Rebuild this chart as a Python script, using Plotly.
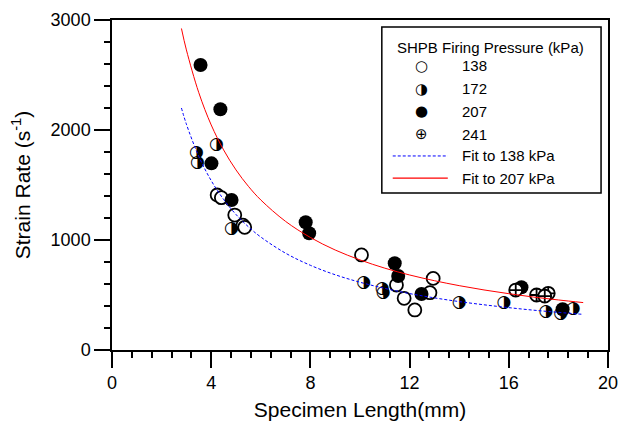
import plotly.graph_objs as go

# specimen length (mm) and strain rate (1/s) for each SHPB firing pressure
len_138 = [4.24, 4.41, 4.95, 5.28, 5.35, 10.06, 11.47, 11.78, 12.21, 12.82, 12.95]
rate_138 = [1409, 1385, 1227, 1135, 1115, 864, 591, 470, 364, 521, 651]

len_172 = [3.40, 3.44, 4.21, 4.82, 10.15, 10.89, 10.93, 14.0, 15.80, 17.50, 18.09, 18.60]
rate_172 = [1797, 1706, 1870, 1106, 612, 561, 521, 433, 433, 348, 333, 379]

len_207 = [3.57, 4.37, 4.01, 4.82, 7.81, 7.95, 11.40, 11.54, 12.48, 16.51, 18.17]
rate_207 = [2591, 2188, 1697, 1364, 1161, 1061, 788, 673, 509, 570, 370]

len_241 = [16.28, 17.12, 17.59, 17.45]
rate_241 = [545, 500, 515, 490]

# fitted curves
fit_len = [2.8, 3, 3.5, 4, 4.5, 5, 5.5, 6, 7, 8, 9, 10, 11, 12, 13, 14, 15, 16, 17, 18, 19]
fit_138 = [2200, 2053, 1760, 1540, 1369, 1232, 1120, 1027, 880, 770, 684, 616, 560, 513, 474, 440, 411, 385, 362, 342, 324]
fit_207 = [2923, 2728, 2339, 2046, 1819, 1637, 1488, 1364, 1169, 1023, 909, 819, 744, 682, 630, 585, 546, 512, 481, 455, 431]

legend_title = 'SHPB Firing Pressure (kPa)'
legend_labels = ['138', '172', '207', '241', 'Fit to 138 kPa', 'Fit to 207 kPa']
legend_glyphs = ['\u25CB', '\u25D1', '\u25CF', '\u2295']

font = 'Liberation Sans, Arial, sans-serif'
glyph_font = 'DejaVu Sans'

fig = go.Figure()
fig.add_trace(go.Scatter(x=len_138, y=rate_138, mode='markers',
                         marker=dict(symbol='circle', size=13, color='white',
                                     line=dict(color='black', width=1.8))))
# no half-filled marker symbol in plotly, use the glyph instead
fig.add_trace(go.Scatter(x=len_172, y=rate_172, mode='text', text=[legend_glyphs[1]] * len(len_172),
                         textfont=dict(family=glyph_font, size=17, color='black')))
fig.add_trace(go.Scatter(x=len_207, y=rate_207, mode='markers',
                         marker=dict(symbol='circle', size=14, color='black')))
fig.add_trace(go.Scatter(x=len_241, y=rate_241, mode='markers',
                         marker=dict(symbol='circle-cross', size=13, color='white',
                                     line=dict(color='black', width=1.8))))
fig.add_trace(go.Scatter(x=fit_len, y=fit_138, mode='lines',
                         line=dict(color='blue', width=1, dash='3px,2px', shape='spline')))
fig.add_trace(go.Scatter(x=fit_len, y=fit_207, mode='lines',
                         line=dict(color='red', width=1, shape='spline')))

# legend drawn by hand
row_y = [0.861, 0.791, 0.724, 0.654, 0.588, 0.521]
fig.add_shape(type='rect', xref='paper', yref='paper', x0=0.544, x1=0.986, y0=0.476, y1=0.979,
              line=dict(color='black', width=1.5), fillcolor='white', layer='above')
fig.add_annotation(xref='paper', yref='paper', x=0.763, y=0.918, xanchor='center', yanchor='middle',
                   text=legend_title, showarrow=False, font=dict(family=font, size=15, color='black'))
for i, lab in enumerate(legend_labels):
    fig.add_annotation(xref='paper', yref='paper', x=0.701, y=row_y[i], xanchor='left', yanchor='middle',
                       text=lab, showarrow=False, font=dict(family=font, size=15, color='black'))
for i, g in enumerate(legend_glyphs):
    fig.add_annotation(xref='paper', yref='paper', x=0.623, y=row_y[i], xanchor='center', yanchor='middle',
                       text=g, showarrow=False, font=dict(family=glyph_font, size=15, color='black'))
fig.add_shape(type='line', xref='paper', yref='paper', x0=0.566, x1=0.677, y0=row_y[4], y1=row_y[4],
              line=dict(color='blue', width=1, dash='3px,2px'), layer='above')
fig.add_shape(type='line', xref='paper', yref='paper', x0=0.566, x1=0.677, y0=row_y[5], y1=row_y[5],
              line=dict(color='red', width=1.2), layer='above')

# main axes carry the frame and ticks; griddash also dashes the ticks,
# so the dotted grid lives on overlaid axes
frame = dict(showline=True, linecolor='black', linewidth=1.5, mirror=True,
             ticks='outside', ticklen=16, tickwidth=1.5, tickcolor='black',
             showgrid=False, zeroline=False, automargin=False, ticklabeloverflow='allow',
             tickfont=dict(family=font, size=18, color='black'))
dotgrid = dict(showgrid=True, gridcolor='#333', gridwidth=1, griddash='dot',
               showline=False, ticks='', showticklabels=False, zeroline=False)

fig.update_layout(
    width=618, height=432, showlegend=False,
    margin=dict(l=112, r=10, t=20, b=82),
    plot_bgcolor='white', paper_bgcolor='white',
    font=dict(family=font, color='black'),
    xaxis=dict(range=[0, 20], tick0=0, dtick=4,
               minor=dict(dtick=0.8, ticks='outside', ticklen=6, tickwidth=1.5, tickcolor='black', showgrid=False),
               title=dict(text='Specimen Length(mm)', font=dict(family=font, size=21), standoff=10),
               **frame),
    yaxis=dict(range=[0, 3000], tick0=0, dtick=1000,
               minor=dict(dtick=200, ticks='outside', ticklen=6, tickwidth=1.5, tickcolor='black', showgrid=False),
               title=dict(text='Strain Rate (s<sup>-1</sup>)', font=dict(family=font, size=21), standoff=14),
               **frame),
    xaxis2=dict(overlaying='x', anchor='y', range=[0, 20], tick0=0, dtick=4, **dotgrid),
    yaxis2=dict(overlaying='y', anchor='x', range=[0, 3000], tick0=0, dtick=1000, **dotgrid),
)

# drop the default 8px page margin so the figure fills the window
fig.write_html("out.html", config={'displayModeBar': False},
               post_script="document.body.style.margin = '0';")
